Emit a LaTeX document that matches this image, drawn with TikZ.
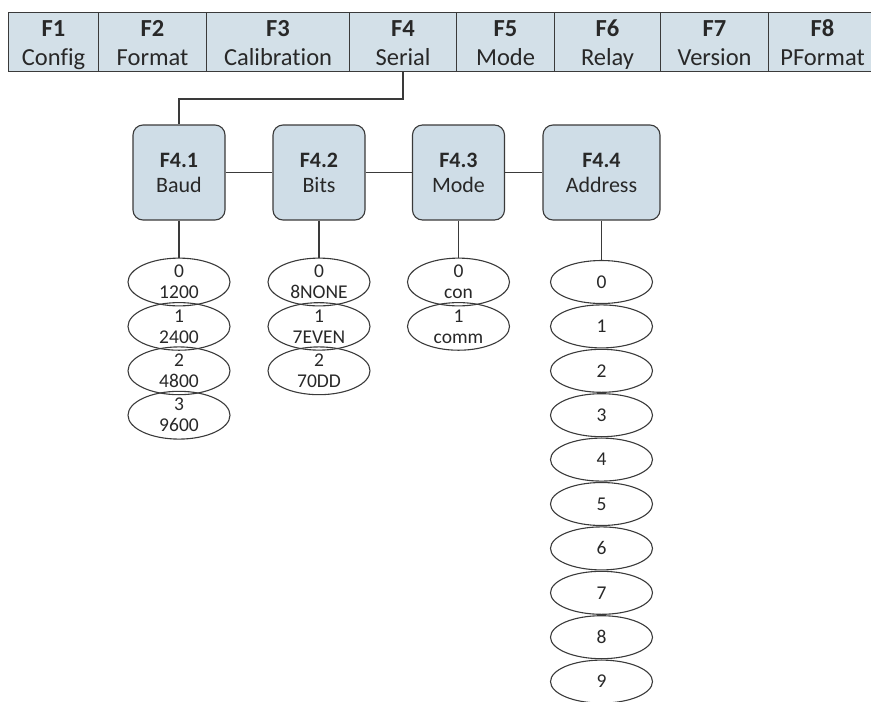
\documentclass[tikz,border=0pt]{standalone}
\usepackage{fontspec}
\setmainfont{Carlito}[Ligatures=NoCommon]
\usetikzlibrary{shapes.geometric}
\definecolor{barfill}{RGB}{211,224,232}
\definecolor{boxfill}{RGB}{207,221,231}
\definecolor{linec}{RGB}{58,58,58}
\definecolor{textc}{RGB}{40,40,40}
\tikzset{
  cell/.style={draw=linec, line width=1.1pt, fill=barfill, anchor=north west, minimum height=59pt, inner sep=0pt},
  ftitle/.style={anchor=base, inner sep=0pt, text=textc, font=\fontsize{24.5}{29}\selectfont\bfseries},
  fsub/.style={anchor=base, inner sep=0pt, text=textc, font=\fontsize{24.5}{29}\selectfont},
  sbox/.style={draw=linec, line width=1.1pt, fill=boxfill, rounded corners=10pt, minimum height=95pt, minimum width=92pt, inner sep=0pt, align=center, text=textc, font=\fontsize{22}{25}\selectfont},
  opt/.style={draw=linec, line width=1.1pt, ellipse, minimum width=102pt, minimum height=43pt, inner sep=0pt, align=center, text=textc, font=\fontsize{19.5}{21}\selectfont},
  conn/.style={draw=linec, line width=1.1pt}
}
\begin{document}
\begin{tikzpicture}[x=1pt,y=1pt]
\useasboundingbox (0,0) rectangle (871,-702);
% top bar
\node[cell, minimum width=90pt] (c1) at (8,-12) {};
\node[cell, minimum width=108pt] (c2) at (98,-12) {};
\node[cell, minimum width=143pt] (c3) at (206,-12) {};
\node[cell, minimum width=107pt] (c4) at (349,-12) {};
\node[cell, minimum width=98pt] (c5) at (456,-12) {};
\node[cell, minimum width=106pt] (c6) at (554,-12) {};
\node[cell, minimum width=108pt] (c7) at (660,-12) {};
\node[cell, minimum width=108pt] (c8) at (768,-12) {};
\foreach \n/\t/\s in {1/F1/Config,2/F2/Format,3/F3/Calibration,4/F4/Serial,5/F5/Mode,6/F6/Relay,7/F7/Version,8/F8/PFormat}{
  \path (c\n.north) ++(0,-24) node[ftitle] (t\n) {\t};
  \path (c\n.north) ++(0,-53) node[fsub] (s\n) {\s};
}
% sub boxes
\node[sbox] (b1) at (179,-172.5) {\textbf{F4.1}\\Baud};
\node[sbox] (b2) at (319,-172.5) {\textbf{F4.2}\\Bits};
\node[sbox] (b3) at (458.5,-172.5) {\textbf{F4.3}\\Mode};
\node[sbox, minimum width=117pt] (b4) at (601.5,-172.5) {\textbf{F4.4}\\Address};
% connectors
\coordinate (k1) at (403,-99);
\coordinate (k2) at (179,-99);
\draw[conn] (c4.south -| k1) -- (k1) -- (k2) -- (b1.north);
\draw[conn] (b1) -- (b2);
\draw[conn] (b2) -- (b3);
\draw[conn] (b3) -- (b4);
% Baud options
\node[opt] (a0) at (179,-282) {0\\1200};
\node[opt] (a1) at (179,-326.4) {1\\2400};
\node[opt] (a2) at (179,-370.8) {2\\4800};
\node[opt] (a3) at (179,-415.2) {3\\9600};
% Bits options
\node[opt] (d0) at (319,-282) {0\\8NONE};
\node[opt] (d1) at (319,-326.4) {1\\7EVEN};
\node[opt] (d2) at (319,-370.8) {2\\70DD};
% Mode options
\node[opt] (m0) at (458.5,-282) {0\\con};
\node[opt] (m1) at (458.5,-326.4) {1\\comm};
% Address options
\foreach \i in {0,...,9}{
  \node[opt] (r\i) at (601.5,{-282-44.4*\i}) {\i};
}
\draw[conn] (b1.south) -- (a0.north);
\draw[conn] (b2.south) -- (d0.north);
\draw[conn] (b3.south) -- (m0.north);
\draw[conn] (b4.south) -- (r0.north);
\end{tikzpicture}
\end{document}
